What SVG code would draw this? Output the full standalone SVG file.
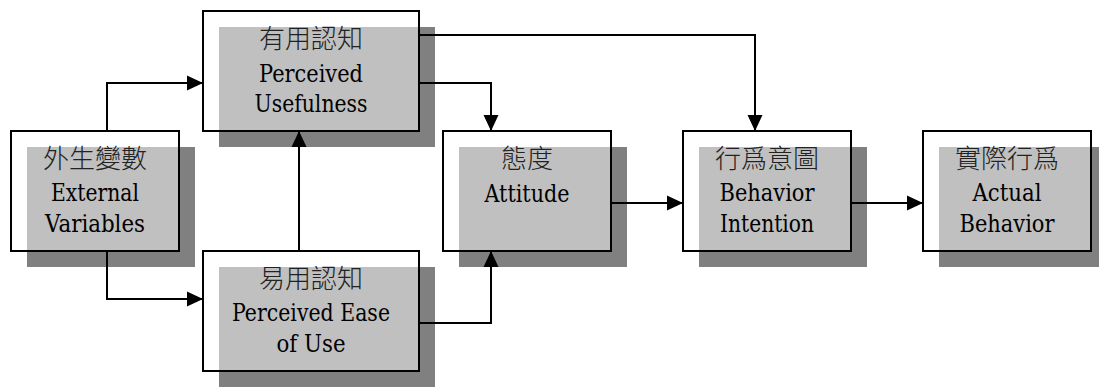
<svg xmlns="http://www.w3.org/2000/svg" width="1099" height="387" viewBox="0 0 1099 387">
  <defs>
    <marker id="arrow" markerUnits="userSpaceOnUse" markerWidth="16" markerHeight="16" viewBox="0 0 16 16" refX="16" refY="8" orient="auto">
      <path d="M0,0.5 L16,8 L0,15.5 Z" fill="#000"/>
    </marker>
    <style>
      .shadow { fill: #808080; }
      .box { fill: #fff; fill-opacity: 0.5; stroke: #000; stroke-width: 2; }
      .edge { fill: none; stroke: #000; stroke-width: 2; marker-end: url(#arrow); }
      .cjk { font-family: "Noto Sans CJK TC", "Noto Sans CJK SC", sans-serif; font-size: 26px; font-weight: 300; fill: #222; text-anchor: middle; }
      .en { font-family: "DejaVu Serif", serif; font-size: 24.5px; fill: #000; text-anchor: middle; }
    </style>
  </defs>
  <rect width="1099" height="387" fill="#fff"/>

  <!-- nodes: drop shadow, translucent white box, labels -->
  <g id="external-variables">
    <rect class="shadow" x="27" y="147" width="168" height="120"/>
    <rect class="box" x="11" y="131" width="168" height="120"/>
    <text class="cjk" x="95" y="168">外生變數</text>
    <text class="en" x="95" y="201" textLength="88" lengthAdjust="spacingAndGlyphs">External</text>
    <text class="en" x="95" y="232" textLength="100" lengthAdjust="spacingAndGlyphs">Variables</text>
  </g>
  <g id="perceived-usefulness">
    <rect class="shadow" x="219" y="27" width="216" height="120"/>
    <rect class="box" x="203" y="11" width="216" height="120"/>
    <text class="cjk" x="311" y="48">有用認知</text>
    <text class="en" x="311" y="82" textLength="104" lengthAdjust="spacingAndGlyphs">Perceived</text>
    <text class="en" x="311" y="112" textLength="113" lengthAdjust="spacingAndGlyphs">Usefulness</text>
  </g>
  <g id="perceived-ease-of-use">
    <rect class="shadow" x="219" y="267" width="216" height="120"/>
    <rect class="box" x="203" y="251" width="216" height="120"/>
    <text class="cjk" x="311" y="288">易用認知</text>
    <text class="en" x="311" y="321" textLength="158" lengthAdjust="spacingAndGlyphs">Perceived Ease</text>
    <text class="en" x="311" y="352" textLength="69" lengthAdjust="spacingAndGlyphs">of Use</text>
  </g>
  <g id="attitude">
    <rect class="shadow" x="459" y="147" width="168" height="120"/>
    <rect class="box" x="443" y="131" width="168" height="120"/>
    <text class="cjk" x="527" y="168">態度</text>
    <text class="en" x="527" y="202" textLength="85" lengthAdjust="spacingAndGlyphs">Attitude</text>
  </g>
  <g id="behavior-intention">
    <rect class="shadow" x="699" y="147" width="168" height="120"/>
    <rect class="box" x="683" y="131" width="168" height="120"/>
    <text class="cjk" x="767" y="168">行爲意圖</text>
    <text class="en" x="767" y="201" textLength="95" lengthAdjust="spacingAndGlyphs">Behavior</text>
    <text class="en" x="767" y="232" textLength="94" lengthAdjust="spacingAndGlyphs">Intention</text>
  </g>
  <g id="actual-behavior">
    <rect class="shadow" x="939" y="147" width="168" height="120"/>
    <rect class="box" x="923" y="131" width="168" height="120"/>
    <text class="cjk" x="1007" y="168">實際行爲</text>
    <text class="en" x="1007" y="201" textLength="69" lengthAdjust="spacingAndGlyphs">Actual</text>
    <text class="en" x="1007" y="232" textLength="95" lengthAdjust="spacingAndGlyphs">Behavior</text>
  </g>

  <!-- connectors -->
  <g id="connectors">
    <path class="edge" d="M107,131 V83 H203"/>
    <path class="edge" d="M107,251 V299 H203"/>
    <path class="edge" d="M299,251 V131"/>
    <path class="edge" d="M419,83 H491 V131"/>
    <path class="edge" d="M419,35 H755 V131"/>
    <path class="edge" d="M419,323 H491 V251"/>
    <path class="edge" d="M611,203 H683"/>
    <path class="edge" d="M851,203 H923"/>
  </g>
</svg>
